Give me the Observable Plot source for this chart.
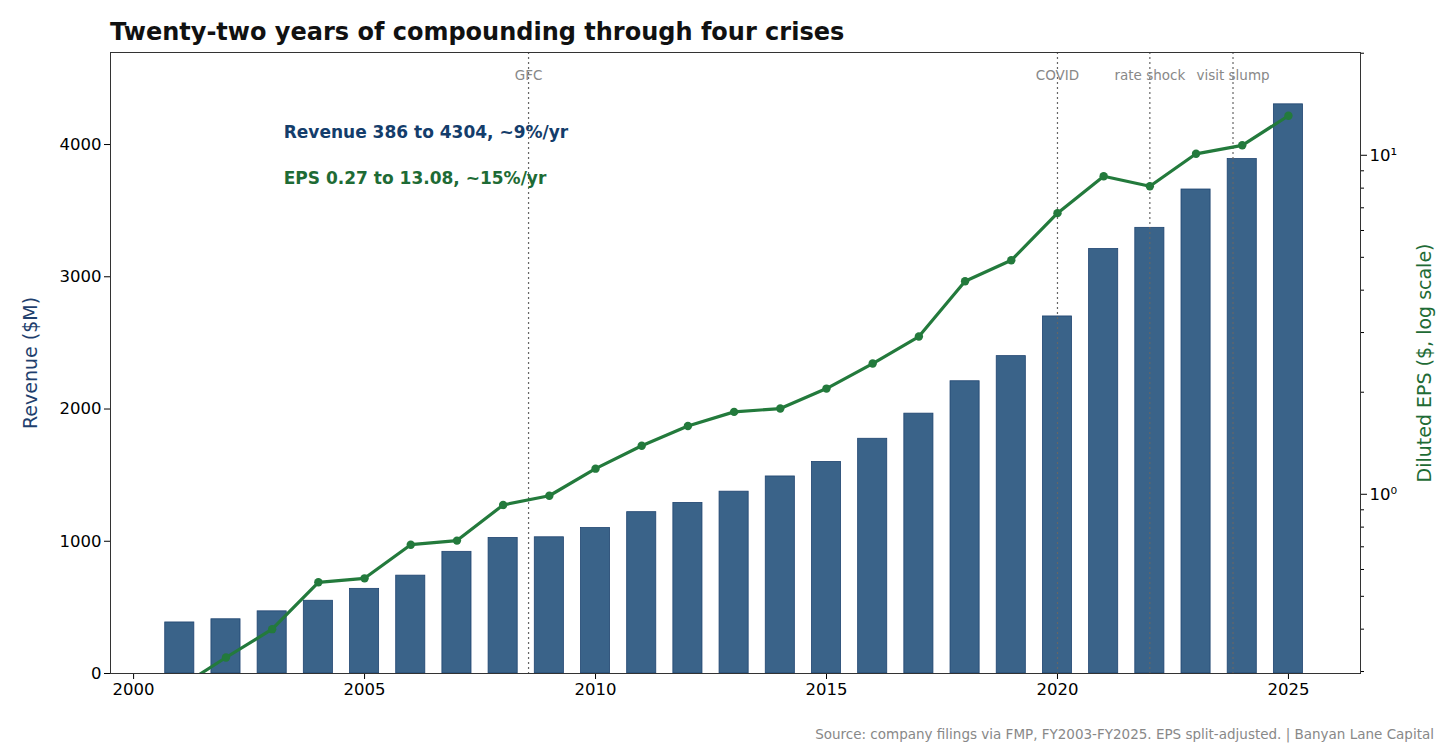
<!DOCTYPE html>
<html><head><meta charset="utf-8">
<script src="https://cdn.jsdelivr.net/npm/d3@7"></script>
<script src="https://cdn.jsdelivr.net/npm/@observablehq/plot@0.6"></script>
<style>
body{margin:0;background:#fff;font-family:"DejaVu Sans",sans-serif}
#wrap{position:relative;width:1456px;height:749px}
#wrap svg{position:absolute;left:0;top:0}
#title{position:absolute;left:110px;top:18px;font-size:24px;font-weight:bold;color:#111}
#cap{position:absolute;right:22px;top:726px;font-size:13.5px;color:#888}
</style></head><body>
<div id="wrap"><div id="title">Twenty-two years of compounding through four crises</div>
<div id="cap">Source: company filings via FMP, FY2003-FY2025. EPS split-adjusted. | Banyan Lane Capital</div></div>
<script>
const years=[2001,2002,2003,2004,2005,2006,2007,2008,2009,2010,2011,2012,2013,2014,2015,2016,2017,2018,2019,2020,2021,2022,2023,2024,2025];
const revenue=[386,410,470,550,640,740,920,1025,1030,1100,1220,1290,1375,1490,1600,1775,1965,2210,2400,2700,3210,3370,3660,3890,4304];
const eps=[0.27,0.33,0.40,0.55,0.565,0.71,0.73,0.93,0.99,1.19,1.39,1.59,1.75,1.79,2.05,2.43,2.92,4.25,4.9,6.75,8.67,8.1,10.1,10.7,13.08];
const crises=[{x:2008.55,label:"GFC"},{x:2020,label:"COVID"},{x:2022,label:"rate shock"},{x:2023.8,label:"visit slump"}];
const rev=years.map((y,i)=>({y,v:revenue[i]}));
const ep=years.map((y,i)=>({y,v:eps[i]}));
const common={width:1456,height:749,marginLeft:110,marginRight:96,marginTop:52,marginBottom:76,
 style:{fontFamily:"DejaVu Sans",fontSize:"16.5px",background:"transparent",overflow:"visible"},
 x:{domain:[1999.5,2026.56],axis:null}};
const p1=Plot.plot({...common,
 y:{domain:[0,4696],axis:null},
 marks:[
  Plot.rectY(rev,{x1:d=>d.y-0.315,x2:d=>d.y+0.315,y:"v",fill:"#3a6389",stroke:"#1f4470",strokeWidth:0.8}),
  Plot.ruleX(crises,{x:"x",stroke:"#666",strokeDasharray:"2,3",strokeWidth:1.2}),
  Plot.text(crises,{x:"x",text:"label",frameAnchor:"top",dy:18,fill:"#888",fontSize:13.5}),
  Plot.axisX({ticks:[2000,2005,2010,2015,2020,2025],tickFormat:d=>String(d),label:null,tickSize:6,tickPadding:4}),
  Plot.axisY({ticks:[0,1000,2000,3000,4000],tickFormat:d=>String(d),label:null,tickSize:6}),
  Plot.text(["Revenue ($M)"],{frameAnchor:"left",dx:-80,rotate:-90,textAnchor:"middle",fill:"#1f3f6e",fontSize:19}),
  Plot.text(["Revenue 386 to 4304, ~9%/yr"],{x:2003.25,y:4090,textAnchor:"start",fill:"#143d6b",fontWeight:"bold",fontSize:17}),
  Plot.text(["EPS 0.27 to 13.08, ~15%/yr"],{x:2003.25,y:3740,textAnchor:"start",fill:"#1e6b35",fontWeight:"bold",fontSize:17}),
  Plot.frame({stroke:"#333"})
 ]});
const minor=[0.3,0.4,0.5,0.6,0.7,0.8,0.9,2,3,4,5,6,7,8,9,20];
const p2=Plot.plot({...common,
 y:{type:"log",domain:[0.296,20.1],axis:null},
 marks:[
  Plot.line(ep,{x:"y",y:"v",stroke:"#237a3c",strokeWidth:3.2,clip:true}),
  Plot.dot(ep,{x:"y",y:"v",fill:"#237a3c",r:4.2,clip:true}),
  Plot.axisY({anchor:"right",ticks:[1,10],tickFormat:d=>d===1?"10⁰":"10¹",tickSize:6,label:null}),
  Plot.axisY({anchor:"right",ticks:minor,tickFormat:()=>"",tickSize:3,label:null}),
  Plot.text(["Diluted EPS ($, log scale)"],{frameAnchor:"right",dx:64,rotate:-90,textAnchor:"middle",fill:"#1e6b35",fontSize:19})
 ]});
const w=document.getElementById("wrap");
w.appendChild(p1);w.appendChild(p2);
</script></body></html>
